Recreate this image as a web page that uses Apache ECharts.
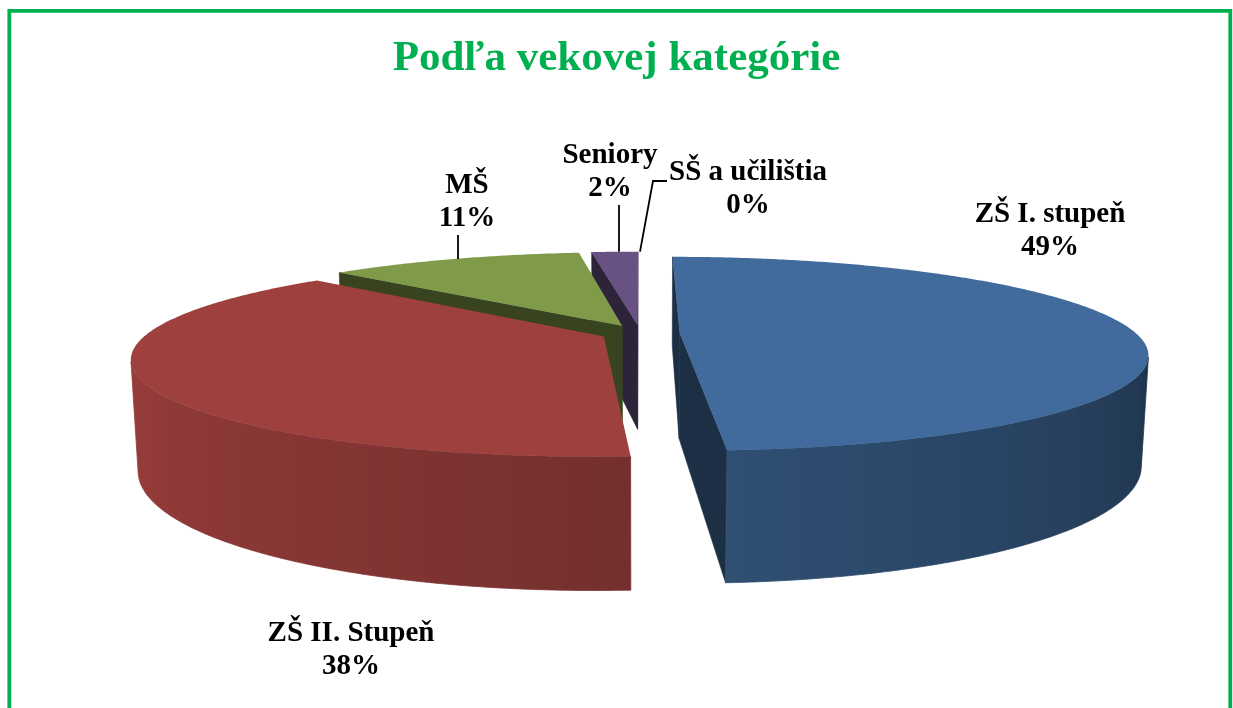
<!DOCTYPE html>
<html><head><meta charset="utf-8">
<script src="https://cdn.jsdelivr.net/npm/echarts@6/dist/echarts.min.js"></script>
<style>html,body{margin:0;padding:0;background:#fff}#c{width:1233px;height:708px}</style>
</head><body><div id="c"></div>
<script>
// ---- data ----
const categories = ['ZŠ I. stupeň', 'ZŠ II. Stupeň', 'MŠ', 'Seniory', 'SŠ a učilištia'];
const values = [49, 38, 11, 2, 0];
const titleText = 'Podľa vekovej kategórie';

// ---- styles / layout ----
const sliceColors = ['#406B9C', '#9E403E', '#7F9B49', '#675283', '#4BACC6'];
const labelPos = [[1050, 231], [351, 650], [467, 202], [610, 172], [748, 189]];
const leaders = [null, null, [[458, 235]], [[619, 205]], [[667, 181], [653, 181]]];
const VIEW = { cx: 640, topY: 333, F: 2038, D: 4.53, elev: Math.asin(0.253), h: 0.24, explode: 0.087 };

const cE = Math.cos(VIEW.elev), sE = Math.sin(VIEW.elev);
const cy = VIEW.topY + VIEW.F * VIEW.h * cE / (VIEW.D - VIEW.h * sE);
function depthOf(px, y, pz) { return VIEW.D + pz * cE - y * sE; }
function proj(px, y, pz) {
  const d = depthOf(px, y, pz);
  const up = y * cE + pz * sE;
  return [VIEW.cx + VIEW.F * px / d, cy - VIEW.F * up / d];
}
function shade(hex, f) {
  const n = parseInt(hex.slice(1), 16);
  const r = Math.round(((n >> 16) & 255) * f), g = Math.round(((n >> 8) & 255) * f), b = Math.round((n & 255) * f);
  return 'rgb(' + r + ',' + g + ',' + b + ')';
}
function sideFactor(a) {
  const deg = a * 180 / Math.PI;
  let t = (deg - 102) / 156; t = Math.max(0, Math.min(1, t));
  return 0.45 + 0.52 * Math.pow(t, 0.8);
}
const total = values.reduce((s, v) => s + v, 0);

function renderItem(params, api) {
  const i = params.dataIndex;
  const v = api.value(0);
  let before = 0; for (let k = 0; k < i; k++) before += values[k];
  const a1 = before / total * 2 * Math.PI, a2 = (before + v) / total * 2 * Math.PI;
  const mid = (a1 + a2) / 2;
  const ox = VIEW.explode * Math.sin(mid), oz = VIEW.explode * Math.cos(mid);
  const h = VIEW.h;
  const P = (a, y) => proj(ox + Math.sin(a), y, oz + Math.cos(a));
  const C = (y) => proj(ox, y, oz);
  const camZ = -VIEW.D * cE;
  const base = sliceColors[i];
  const children = [];
  if (v > 0) {
    const n = Math.max(2, Math.ceil((a2 - a1) / (Math.PI / 360)));
    const top = [C(h)];
    for (let k = 0; k <= n; k++) top.push(P(a1 + (a2 - a1) * k / n, h));
    children.push({ type: 'polygon', z2: 1000, shape: { points: top }, style: { fill: base } });
    // outer curved side
    const vis = a => { const s = Math.sin(a), c = Math.cos(a); return (-ox - s) * s + (camZ - oz - c) * c > 0; };
    const runs = []; let run = [];
    for (let k = 0; k <= n; k++) {
      const a = a1 + (a2 - a1) * k / n;
      if (vis(a)) run.push(a); else { if (run.length > 1) runs.push(run); run = []; }
    }
    if (run.length > 1) runs.push(run);
    runs.forEach(r => {
      const topA = r.map(a => P(a, h)), botA = r.map(a => P(a, 0)).reverse();
      const xs = topA.map(p => p[0]);
      const xmin = Math.min.apply(null, xs), xmax = Math.max.apply(null, xs);
      const stops = r.map((a, idx) => ({ offset: (topA[idx][0] - xmin) / ((xmax - xmin) || 1), color: shade(base, sideFactor(a)) }));
      stops.sort((p, q) => p.offset - q.offset);
      const ma = r[Math.floor(r.length / 2)];
      const d = depthOf(ox + Math.sin(ma), h / 2, oz + Math.cos(ma));
      const grad = { type: 'linear', x: xmin, y: 0, x2: xmax, y2: 0, global: true, colorStops: stops };
      children.push({ type: 'polygon', z2: 500 - d * 50, shape: { points: topA.concat(botA) }, style: { fill: grad, stroke: grad, lineWidth: 0.8 } });
    });
    // radial faces
    const faces = [[a1, [-Math.cos(a1), Math.sin(a1)]], [a2, [Math.cos(a2), -Math.sin(a2)]]];
    faces.forEach(fc => {
      const a = fc[0], nrm = fc[1];
      const mx = ox + Math.sin(a) / 2, mz = oz + Math.cos(a) / 2;
      if ((-mx) * nrm[0] + (camZ - mz) * nrm[1] <= 0) return;
      const col = shade(base, 0.44);
      children.push({ type: 'polygon', z2: 500 - depthOf(mx, h / 2, mz) * 50, shape: { points: [C(h), P(a, h), P(a, 0), C(0)] }, style: { fill: col, stroke: col, lineWidth: 0.6 } });
    });
  }
  // leader line
  const ld = leaders[i];
  if (ld) {
    const end = P(mid, h);
    const pts = ld.length === 1 ? [ld[0], [ld[0][0], end[1]]] : ld.concat([end]);
    children.push({ type: 'polyline', z2: 1500, shape: { points: pts }, style: { stroke: '#000', lineWidth: 1.8, fill: null } });
  }
  // label
  const pct = Math.round(v / total * 100);
  children.push({ type: 'text', z2: 2000, style: {
    text: categories[i] + '\n' + pct + '%', x: labelPos[i][0], y: labelPos[i][1],
    font: 'bold 29px "Liberation Serif", "Times New Roman", serif', fill: '#000',
    align: 'center', verticalAlign: 'middle', textAlign: 'center', textVerticalAlign: 'middle', lineHeight: 33 } });
  return { type: 'group', children: children };
}

const chart = echarts.init(document.getElementById('c'));
chart.setOption({
  animation: false,
  backgroundColor: '#fff',
  title: { text: titleText, left: 'center', top: 32,
    textStyle: { fontFamily: '"Liberation Serif", "Times New Roman", serif', fontWeight: 'bold', fontSize: 43, color: '#00B050' } },
  graphic: [{ type: 'rect', silent: true, shape: { x: 9.3, y: 10.9, width: 1221, height: 760 },
    style: { fill: 'none', stroke: '#00B050', lineWidth: 3.8 } }],
  series: [{ type: 'custom', coordinateSystem: 'none', renderItem: renderItem,
    data: values.map((v, i) => ({ name: categories[i], value: [v] })) }]
});
</script></body></html>
